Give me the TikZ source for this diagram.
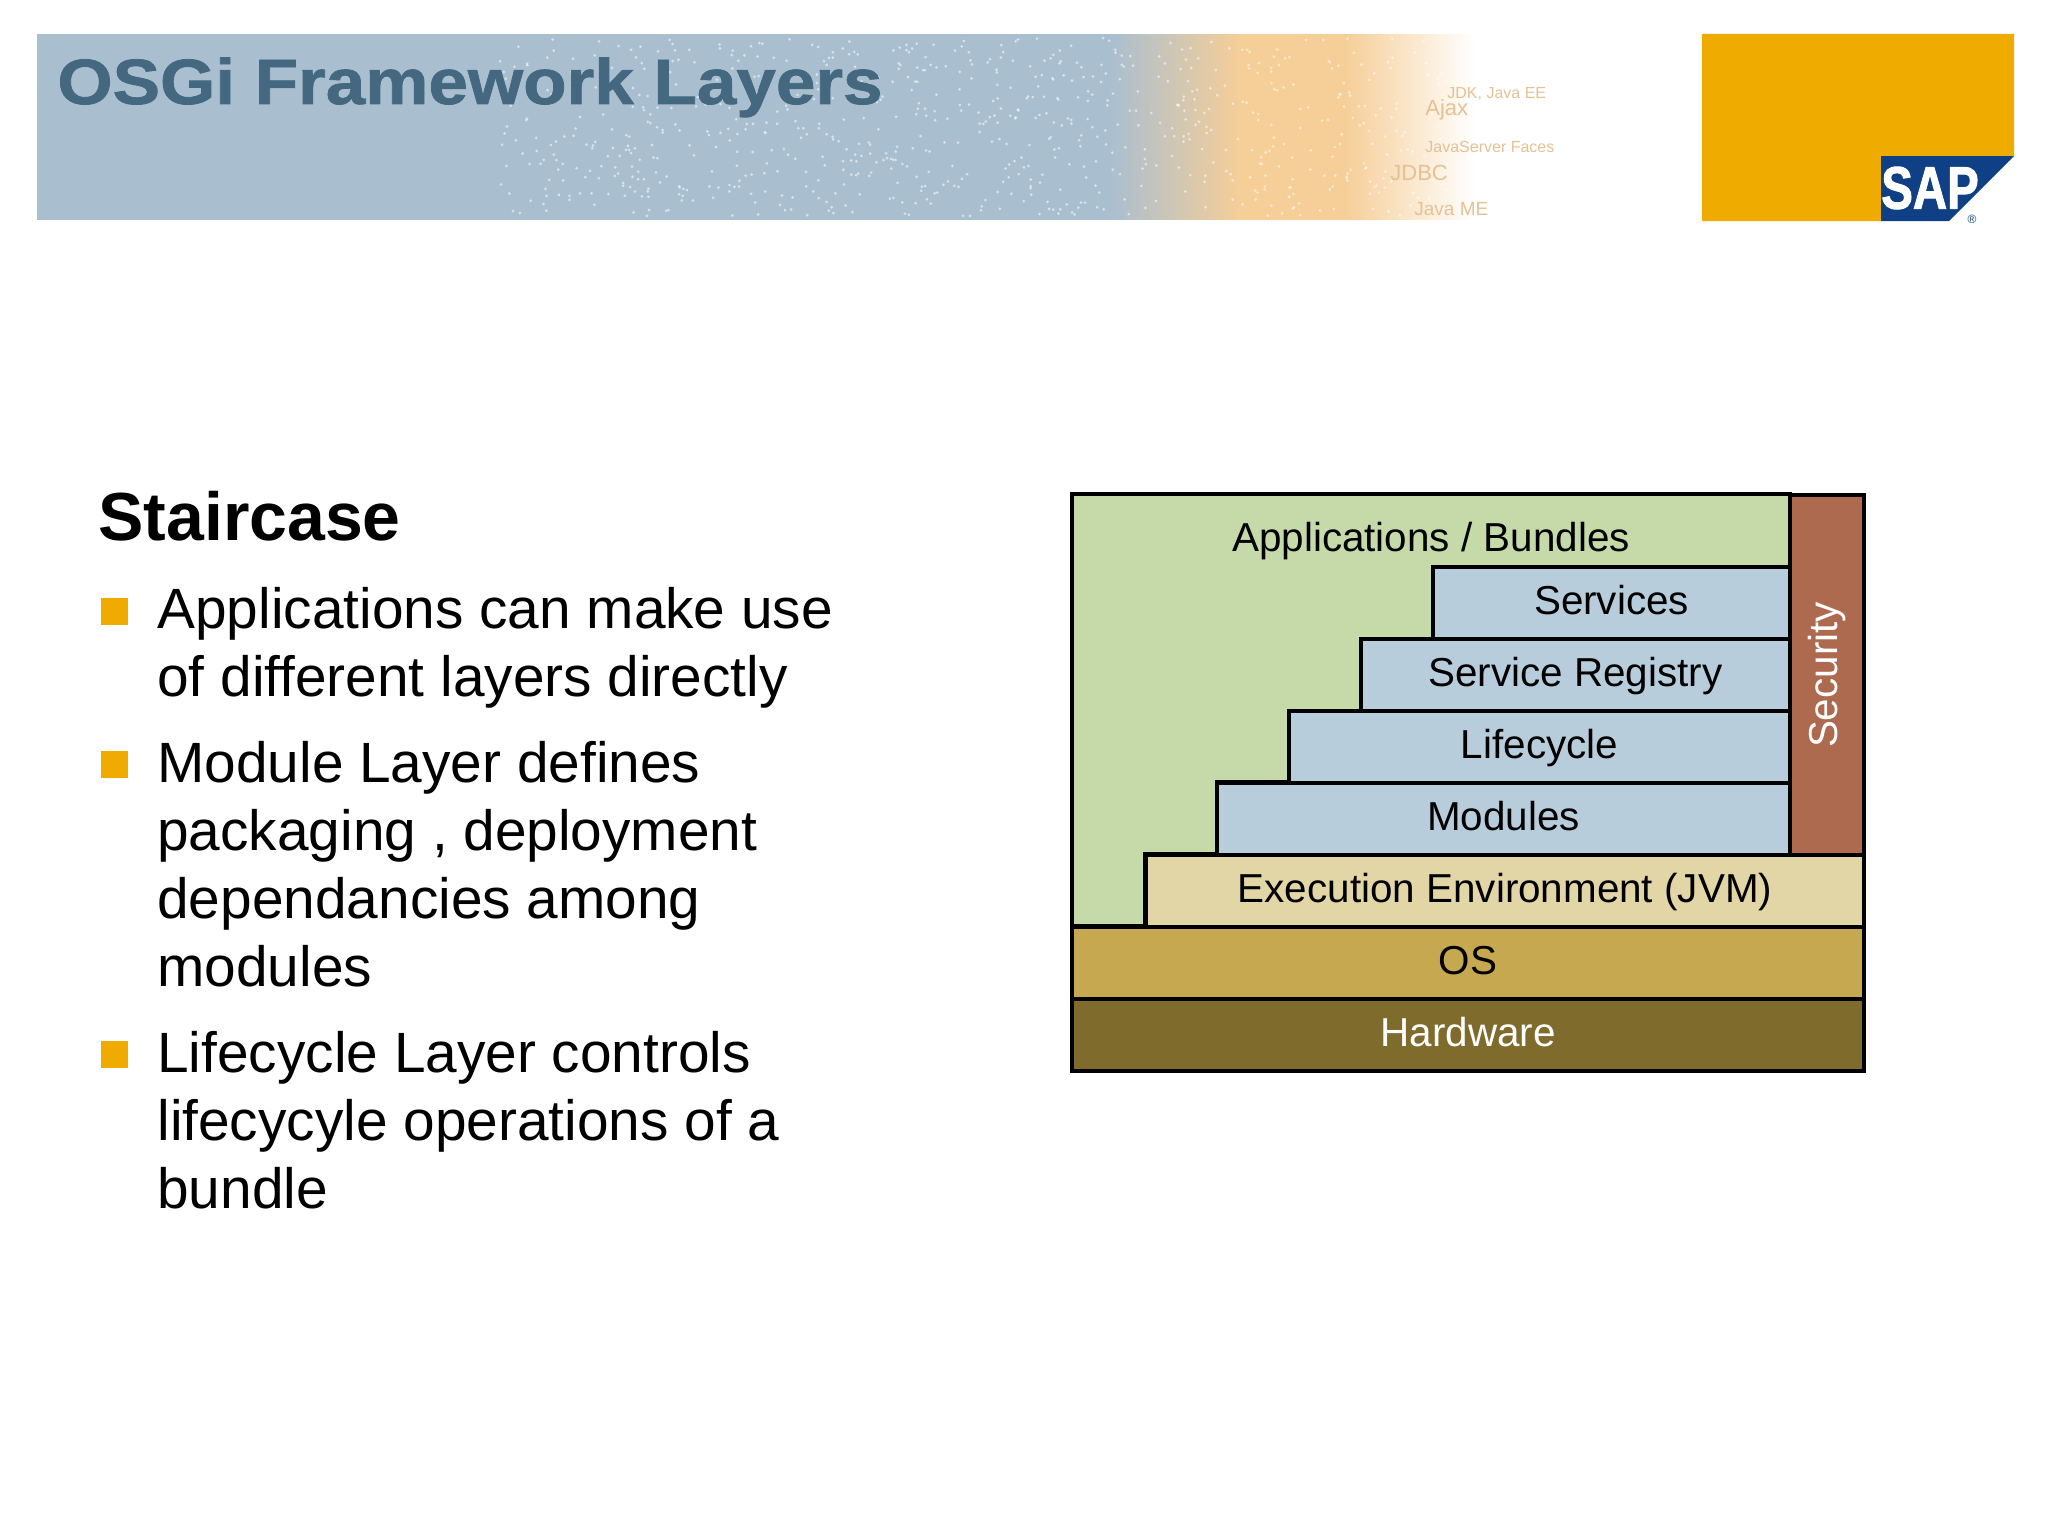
\documentclass[tikz,border=0pt]{standalone}
\usepackage{fontspec}
\setmainfont{Liberation Sans}
\newfontfamily\titlefont[FakeStretch=1.11,FakeBold=1.2]{Liberation Sans}
\newfontfamily\logofont[FakeStretch=0.79,FakeBold=1.5]{Liberation Sans}
\definecolor{sapgold}{HTML}{F0AB00}
\definecolor{sapblue}{HTML}{0F3F85}
\definecolor{banner}{HTML}{A9BFD0}
\definecolor{bannerorange}{HTML}{F6CE98}
\definecolor{titleink}{HTML}{44687F}
\definecolor{appgreen}{HTML}{C5DAA8}
\definecolor{layerblue}{HTML}{B8CDDC}
\definecolor{secred}{HTML}{AE6A4F}
\definecolor{jvmtan}{HTML}{E2D6A6}
\definecolor{osgold}{HTML}{C6A851}
\definecolor{hwbrown}{HTML}{7F6B2C}
\tikzset{
  layer/.style={draw=black, line width=1.6pt, outer sep=0pt, inner sep=0pt,
                minimum height=36pt, font=\fontsize{20.2}{22}\selectfont,
                text height=15.4pt, text depth=4pt, anchor=south east},
  bullettext/.style={anchor=north west, align=left, inner sep=0pt,
                     font=\fontsize{28.4}{34}\selectfont},
  bulletbox/.style={fill=sapgold, minimum size=13.5pt, inner sep=0pt, outer sep=0pt},
  faint/.style={inner sep=0pt, anchor=base west, text=bannerorange!85!gray},
}

\begin{document}
\begin{tikzpicture}[x=0.5pt, y=-0.5pt]
    \useasboundingbox (0,0) rectangle (2048,1536);
    % banner
    \fill[banner] (37,34) rectangle (1110,220);
    \shade[left color=banner, right color=bannerorange] (1110,34.5) rectangle (1240,219.5);
    \fill[bannerorange] (1240,34) rectangle (1345,220);
    \shade[left color=bannerorange, right color=white] (1345,34.5) rectangle (1475,219.5);
    \pgfmathsetseed{7}
    \foreach \i in {1,...,800} {
      \pgfmathsetmacro{\sx}{500+950*rnd}
      \pgfmathsetmacro{\sy}{38+178*rnd}
      \fill[white, opacity=0.55] (\sx,\sy) circle (1.5);
    }
    \node[faint, font=\fontsize{8}{9}\selectfont] (jdk) at (1447,98) {JDK, Java EE};
    \node[faint, font=\fontsize{11}{12}\selectfont] (ajax) at (1425,116) {Ajax};
    \node[faint, font=\fontsize{8}{9}\selectfont] (faces) at (1425,152) {JavaServer Faces};
    \node[faint, font=\fontsize{11}{12}\selectfont] (jdbc) at (1390,180) {JDBC};
    \node[faint, font=\fontsize{9.5}{10}\selectfont] (javame) at (1414,215) {Java ME};
    \node[anchor=base west, inner sep=0pt, text=titleink,
          font=\fontsize{32}{36}\titlefont\bfseries\selectfont] (title) at (57,104) {OSGi Framework Layers};
    % logo
    \fill[sapgold] (1702,34) -- (2014,34) -- (2014,156) -- (1881,156) -- (1881,221) -- (1702,221) -- cycle;
    \fill[sapblue] (1881,156) -- (2014,156) -- (1949,221) -- (1881,221) -- cycle;
    \node[anchor=center, inner sep=0pt, text=white,
          font=\fontsize{30}{30}\logofont\bfseries\selectfont] (sap) at (1930,188) {SAP};
    \node[inner sep=0pt, text=sapblue, font=\fontsize{6}{6}\selectfont] (reg mark) at (1972,219) {®};
    % text
    \node[anchor=base west, inner sep=0pt, font=\fontsize{34}{36}\bfseries\selectfont] (head) at (98,540) {Staircase};
    \node[bullettext] (one) at (157,587) {Applications can make use\\of different layers directly};
    \node[bullettext] (two) at (157,740.5) {Module Layer defines\\packaging , deployment\\dependancies among\\modules};
    \node[bullettext] (three) at (157,1030.5) {Lifecycle Layer controls\\lifecycyle operations of a\\bundle};
    \node[bulletbox] (b1) at (114,611) {};
    \node[bulletbox] (b2) at (114,764) {};
    \node[bulletbox] (b3) at (114,1054) {};
    % stack
    \node[layer, fill=hwbrown, text=white, minimum width=396pt] (hw) at (1864,1071) {Hardware};
    \node[layer, fill=osgold, minimum width=396pt] (os) at (hw.north east) {OS};
    \draw[line width=1.6pt, fill=appgreen] (1072,926) |- (1790,494) |- (1433,567) |- (1361,639) |- (1289,711) |- (1217,782) |- (1145,854) |- cycle;
    \node[layer, fill=jvmtan, minimum width=359pt] (jvm) at (os.north east) {Execution Environment (JVM)};
    \node[layer, fill=secred, text=white, text height=, text depth=, minimum width=37pt, minimum height=180pt] (sec) at (jvm.north east) {\rotatebox{90}{Security}};
    \node[layer, fill=layerblue, minimum width=286.5pt] (mod) at (sec.south west) {Modules};
    \node[layer, fill=layerblue, minimum width=250.5pt] (life) at (mod.north east) {Lifecycle};
    \node[layer, fill=layerblue, minimum width=214.5pt] (reg) at (life.north east) {Service Registry};
    \node[layer, fill=layerblue, minimum width=178.5pt] (serv) at (reg.north east) {Services};
    \node[anchor=base, inner sep=0pt, font=\fontsize{20.2}{22}\selectfont] (app) at (1431,551) {Applications / Bundles};
  \end{tikzpicture}
\end{document}
